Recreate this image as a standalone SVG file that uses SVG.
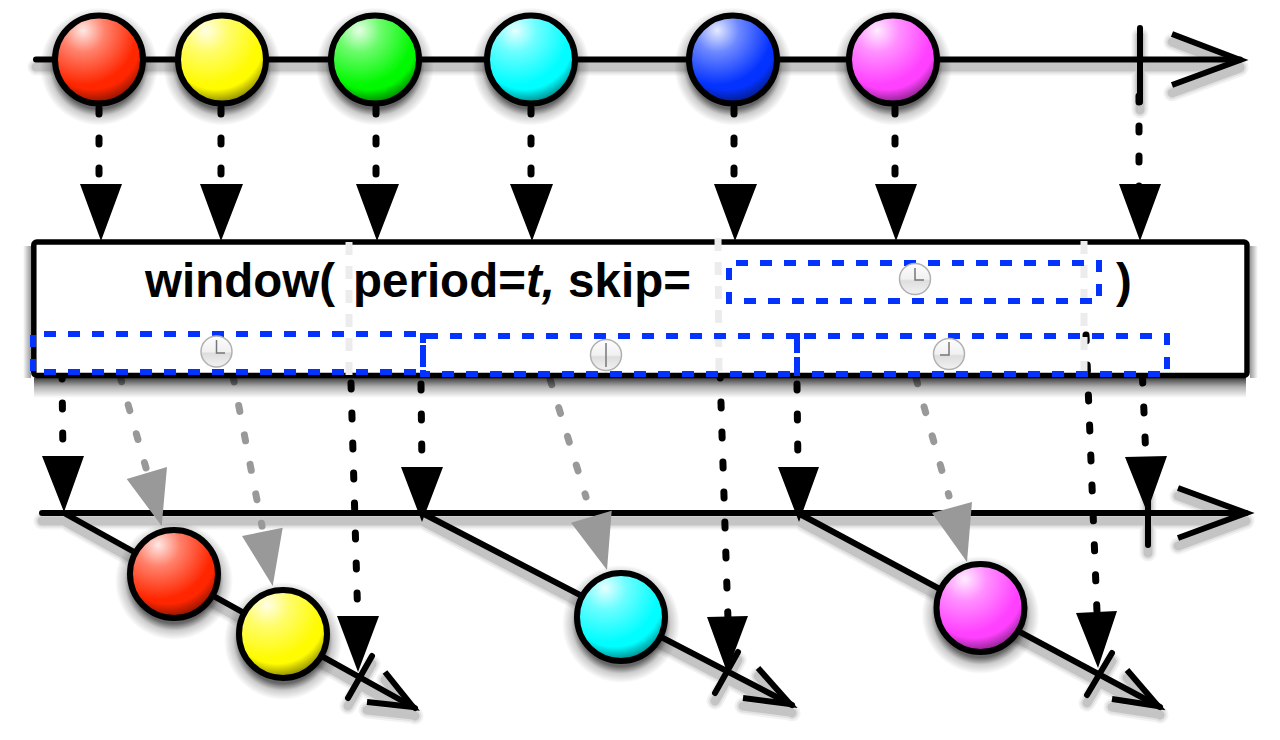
<svg xmlns="http://www.w3.org/2000/svg" width="1280" height="740" viewBox="0 0 1280 740">
<defs>
<radialGradient id="hl" cx="0.32" cy="0.17" r="0.62"><stop offset="0" stop-color="#fff" stop-opacity="0.9"/><stop offset="0.4" stop-color="#fff" stop-opacity="0.42"/><stop offset="1" stop-color="#fff" stop-opacity="0"/></radialGradient>
<radialGradient id="dk" cx="0.43" cy="0.3" r="0.75"><stop offset="0.72" stop-color="#000" stop-opacity="0"/><stop offset="1" stop-color="#000" stop-opacity="0.62"/></radialGradient>
<radialGradient id="bsh" cx="0.5" cy="0.5" r="0.5"><stop offset="0.72" stop-color="#000" stop-opacity="0.6"/><stop offset="0.84" stop-color="#000" stop-opacity="0.2"/><stop offset="1" stop-color="#000" stop-opacity="0"/></radialGradient>
<linearGradient id="clk" x1="0" y1="0" x2="0" y2="1"><stop offset="0" stop-color="#fdfdfd"/><stop offset="0.5" stop-color="#f1f1f1"/><stop offset="0.56" stop-color="#dedede"/><stop offset="1" stop-color="#f2f2f2"/></linearGradient>
<linearGradient id="bxb" x1="0" y1="0" x2="0" y2="1"><stop offset="0" stop-color="#000" stop-opacity="0.75"/><stop offset="0.45" stop-color="#000" stop-opacity="0.3"/><stop offset="1" stop-color="#000" stop-opacity="0"/></linearGradient>
<linearGradient id="bxl" x1="1" y1="0" x2="0" y2="0"><stop offset="0" stop-color="#000" stop-opacity="0.4"/><stop offset="1" stop-color="#000" stop-opacity="0"/></linearGradient>
<linearGradient id="bxr" x1="0" y1="0" x2="1" y2="0"><stop offset="0" stop-color="#000" stop-opacity="0.4"/><stop offset="1" stop-color="#000" stop-opacity="0"/></linearGradient>
<g id="ball"><circle r="59" cy="7" fill="url(#bsh)"/><circle r="44" fill="currentColor"/><circle r="44" fill="url(#dk)"/><circle r="44" fill="url(#hl)" stroke="#000" stroke-width="6"/></g>
<circle id="clock" r="15.500" fill="url(#clk)" stroke="#b0b0b0" stroke-width="1.500"/>
</defs>
<style>
.ln{fill:none;stroke:#000;stroke-width:6;stroke-linecap:round}
.hd{fill:none;stroke:#000;stroke-width:6;stroke-linejoin:miter;stroke-miterlimit:10}
.s1,.s2,.s3{fill:none;stroke:#000;stroke-linecap:round;stroke-linejoin:round}
.s1{stroke-opacity:0.05;stroke-width:17}
.s2{stroke-opacity:0.07;stroke-width:13}
.s3{stroke-opacity:0.12;stroke-width:9}
.d{fill:none;stroke:#000;stroke-width:7;stroke-linecap:round;stroke-dasharray:6 24}
.g{fill:none;stroke:#999;stroke-width:7;stroke-linecap:round;stroke-dasharray:6 24}
.w{fill:none;stroke:#ececec;stroke-width:7;stroke-dasharray:13 11}
.b{fill:none;stroke:#0433ff;stroke-width:6;stroke-dasharray:12 12}
.bs{fill:none;stroke:#0433ff;stroke-width:6}
.ak{fill:#000}.ag{fill:#999}
.h{fill:none;stroke:#777;stroke-width:1.500}
text{font-family:"Liberation Sans",Arial,sans-serif;font-weight:700;font-size:47.500px;fill:#000}
</style>
<g id="connectors">
<path class="s1" d="M36 67H1240M1140 36V110M1172 42L1240 68L1172 93M42 521H1246M1148 498V553M1178 496L1246 521L1178 546M64 521L415 716M422 521L792 713M798 521L1160 715M372 664L348 706M738 660L715 701M1112 661L1087 703M385 680L413 715L367 710M758 676L790 712L743 706M1127 678L1158 714L1112 707"/>
<path class="s2" d="M36 67H1240M1140 36V110M1172 42L1240 68L1172 93M42 521H1246M1148 498V553M1178 496L1246 521L1178 546M64 521L415 716M422 521L792 713M798 521L1160 715M372 664L348 706M738 660L715 701M1112 661L1087 703M385 680L413 715L367 710M758 676L790 712L743 706M1127 678L1158 714L1112 707"/>
<path class="s3" d="M36 67H1240M1140 36V110M1172 42L1240 68L1172 93M42 521H1246M1148 498V553M1178 496L1246 521L1178 546M64 521L415 716M422 521L792 713M798 521L1160 715M372 664L348 706M738 660L715 701M1112 661L1087 703M385 680L413 715L367 710M758 676L790 712L743 706M1127 678L1158 714L1112 707"/>
<path class="ln" d="M36 59.500H1240M1140 28V102"/><path class="hd" d="M1172 34L1240 60L1172 85"/>
<path class="ln" d="M42 513H1246M1148 490V545M64 513L415 708M422 513L792 705M798 513L1160 707M372 656L348 698M738 652L715 693M1112 653L1087 695"/><path class="hd" d="M1178 488L1246 513L1178 538M385 672L413 707L367 702M758 668L790 704L743 698M1127 670L1158 706L1112 699"/>
<path class="d" d="M99 108V190M221 108V190M376 108V190M531 108V190M734 108V190M895 108V190M1139 96V190"/>
<path class="ak" d="M80 184H122L101 241ZM200 184H243L221 241ZM356 184H399L377 241ZM510 184H553L532 241ZM714 184H757L735 241ZM875 184H917L896 241ZM1119 184H1161L1140 241Z"/>
<path class="d" d="M62 373L63 460M421 384L422 470M797 384L798 470M1142.500 377L1146 460M351 383L358 625M720 372L728 620"/>
<path class="g" d="M120 376L146 468M233 376L262 526M550 379L586 497M916 378L949 496"/>
<path class="ak" d="M42 456H84L64 512ZM401 467H443L422 522ZM778 467H819L799 522ZM1125 457L1167 456L1147 512ZM337 616H379L358 672ZM707 617L748 616L727 672ZM1076 613L1117 611L1098 668Z"/>
<path class="ag" d="M126.700 479L167 467L161.700 526ZM242 536L282.700 527.700L272.700 586ZM571 522.700L611.700 510.700L607 570ZM932 513L972 502L967 562Z"/>
</g>
<g id="window-box">
<rect x="34" y="378" width="1212" height="20" fill="url(#bxb)"/>
<rect x="23" y="246" width="8" height="132" fill="url(#bxl)"/>
<rect x="1250" y="246" width="8" height="132" fill="url(#bxr)"/>
<rect x="33.800" y="242" width="1213.200" height="133.500" rx="3" fill="#fff" stroke="#000" stroke-width="5.500"/>
<text x="145" y="296.500">window(</text>
<text x="353" y="296.500">period=<tspan font-style="italic">t,</tspan> skip=</text>
<text x="1116" y="296.500">)</text>
</g>
<g id="overlays">
<path class="d" d="M1086 335L1097 612"/>
<path class="w" d="M349 242V376M718 238L719 376M1084 241L1084 376"/>
<path class="b" d="M44 334H416M33 335V371M44 372H416"/>
<path class="b" d="M426 336H798M442 374H790"/>
<path class="bs" d="M423 333V343M423 345V367M423 370V377M421 374H430M797 333V353M797 357V376"/>
<path class="b" d="M804 336H1152M1167 333V369M812 374H1160"/>
<path class="b" d="M736 263H1090M1099 260V300M744 301H1092M729 268V304"/>
</g>
<g id="clock1"><use href="#clock" x="216.500" y="351.500"/><path class="h" d="M216.500 340V353H225"/></g>
<g id="clock2"><use href="#clock" x="606" y="355"/><path class="h" d="M606 343V367"/></g>
<g id="clock3"><use href="#clock" x="949" y="354"/><path class="h" d="M949 342V355H940"/></g>
<g id="clock4"><use href="#clock" x="915" y="279"/><path class="h" d="M915 268V280H924"/></g>
<g id="top-red" color="#ff2600"><use href="#ball" x="99" y="59.500"/></g>
<g id="top-yellow" color="#fffb00"><use href="#ball" x="222" y="59.500"/></g>
<g id="top-green" color="#00f900"><use href="#ball" x="375" y="59.500"/></g>
<g id="top-cyan" color="#00fdff"><use href="#ball" x="531" y="59.500"/></g>
<g id="top-blue" color="#0433ff"><use href="#ball" x="733" y="59.500"/></g>
<g id="top-magenta" color="#ff40ff"><use href="#ball" x="893" y="59.500"/></g>
<g id="bot-red" color="#ff2600"><use href="#ball" x="174" y="574"/></g>
<g id="bot-yellow" color="#fffb00"><use href="#ball" x="283" y="634"/></g>
<g id="bot-cyan" color="#00fdff"><use href="#ball" x="621" y="617"/></g>
<g id="bot-magenta" color="#ff40ff"><use href="#ball" x="980.500" y="608"/></g>
</svg>
